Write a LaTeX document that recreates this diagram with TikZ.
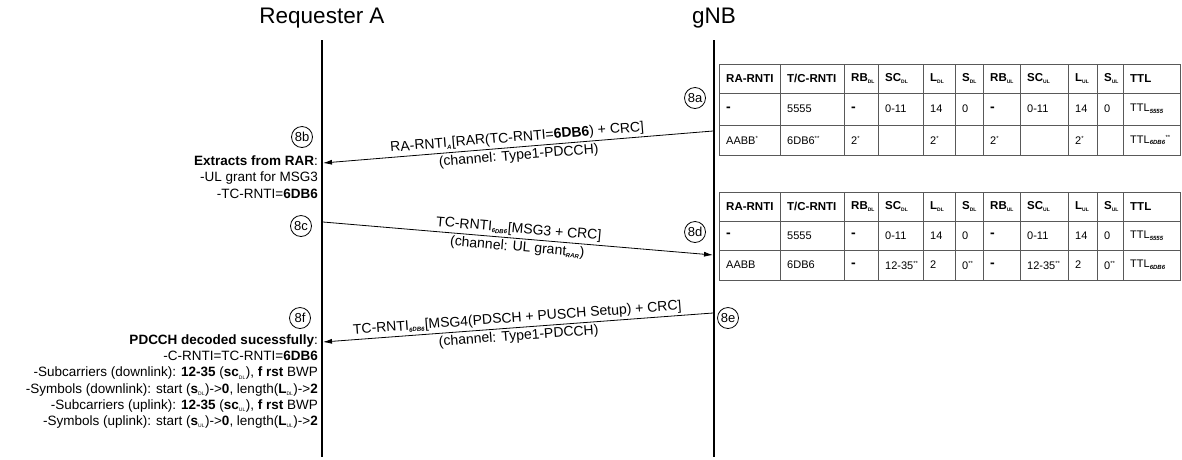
\documentclass[tikz,border=0pt]{standalone}
\usepackage{fontspec}
\setmainfont{Liberation Sans}
\usetikzlibrary{arrows.meta}

\newcommand{\lo}[1]{\textsubscript{\fontsize{5}{5}\selectfont #1}}
\newcommand{\loit}[1]{\textsubscript{\fontsize{6}{6}\selectfont\bfseries\itshape #1}}
\newcommand{\starmk}[1]{\textsuperscript{\fontsize{6}{6}\selectfont #1}}
\newcommand{\nodash}{{\fontsize{14}{11}\selectfont\bfseries -}}

\tikzset{
  lifeline/.style={line width=1.8pt},
  msg/.style={line width=0.8pt, -{Latex[length=9pt,width=5pt]}},
  lbl/.style={sloped, inner sep=2.2pt, font=\fontsize{14}{14}\selectfont},
  stepmark/.style={draw, circle, line width=0.8pt, inner sep=0pt, minimum size=21pt, font=\fontsize{13}{13}\selectfont},
  note/.style={align=right, inner sep=0pt, font=\fontsize{13.5}{16.3}\selectfont},
  tabline/.style={line width=0.9pt, black!65},
  cell/.style={anchor=west, inner sep=0pt, font=\fontsize{11}{11}\selectfont},
  hcell/.style={cell, font=\fontsize{11.5}{11.5}\selectfont\bfseries},
}

\begin{document}
\begin{tikzpicture}[x=1pt, y=-1pt]
  \useasboundingbox (0,0) rectangle (1182,459);

  % lifelines
  \node[font=\fontsize{22.5}{27}\selectfont] (req) at (322,18) {Requester A};
  \node[font=\fontsize{22.5}{27}\selectfont] (gnb) at (714,18) {gNB};
  \coordinate (reqtop) at (322,40);
  \coordinate (reqbot) at (322,457);
  \coordinate (gnbtop) at (714,40);
  \coordinate (gnbbot) at (714,457);
  \draw[lifeline] (reqtop) -- (reqbot);
  \draw[lifeline] (gnbtop) -- (gnbbot);

  % step marks
  \node[stepmark] (s8a) at (695,98) {8a};
  \node[stepmark] (s8b) at (302,137) {8b};
  \node[stepmark] (s8c) at (301,226) {8c};
  \node[stepmark] (s8d) at (695,232) {8d};
  \node[stepmark] (s8e) at (728,318) {8e};
  \node[stepmark] (s8f) at (300,318) {8f};

  % messages
  \coordinate (m1s) at (713,131);
  \coordinate (m1e) at (323,163);
  \draw[msg] (m1s) -- node[lbl, above] {RA-RNTI\loit{A}[RAR(TC-RNTI=\textbf{6DB6}) + CRC]}
                      node[lbl, below] {(channel: Type1-PDCCH)} (m1e);

  \coordinate (m2s) at (323,222);
  \coordinate (m2e) at (713,255);
  \draw[msg] (m2s) -- node[lbl, above] {TC-RNTI\loit{6DB6}[MSG3 + CRC]}
                      node[lbl, below] {(channel: UL grant\loit{RAR})} (m2e);

  \coordinate (m3s) at (713,313);
  \coordinate (m3e) at (323,342);
  \draw[msg] (m3s) -- node[lbl, above] {TC-RNTI\loit{6DB6}[MSG4(PDSCH + PUSCH Setup) + CRC]}
                      node[lbl, below] {(channel: Type1-PDCCH)} (m3e);

  % what the requester reads
  \node[note, anchor=east] (rarinfo) at (318,177)
    {\textbf{Extracts from RAR}:\\-UL grant for MSG3\\-TC-RNTI=\textbf{6DB6}};
  \node[note, anchor=east] (msg4info) at (318,381.5)
    {\textbf{PDCCH decoded sucessfully}:\\
     -C-RNTI=TC-RNTI=\textbf{6DB6}\\
     -Subcarriers (downlink): \textbf{12-35} (\textbf{sc}\lo{DL}), \textbf{f rst} BWP\\
     -Symbols (downlink): start (\textbf{s}\lo{DL})->\textbf{0}, length(\textbf{L}\lo{DL})->\textbf{2}\\
     -Subcarriers (uplink): \textbf{12-35} (\textbf{sc}\lo{UL}), \textbf{f rst} BWP\\
     -Symbols (uplink): start (\textbf{s}\lo{UL})->\textbf{0}, length(\textbf{L}\lo{UL})->\textbf{2}};

  % tables of the gNB
  \foreach \tb/\ya/\yb/\yc/\yd in {a/64/93/125/155, b/192/221/250/280} {
    \draw[tabline] (719,\ya) rectangle (1180,\yd);
    \draw[tabline] (719,\yb) -- (1180,\yb);
    \draw[tabline] (719,\yc) -- (1180,\yc);
    \foreach \x in {780,844,878,923,955,983,1020,1068,1097,1123}
      \draw[tabline] (\x,\ya) -- (\x,\yd);
    \foreach \x/\txt [count=\c] in {719/RA-RNTI, 780/{T/C-RNTI}, 844/RB\lo{DL}, 878/SC\lo{DL},
        923/L\lo{DL}, 955/S\lo{DL}, 983/RB\lo{UL}, 1020/SC\lo{UL}, 1068/L\lo{UL}, 1097/S\lo{UL}, 1123/TTL}
      \node[hcell] (h\tb-\c) at ({\x+7},{(\ya+\yb)/2}) {\txt};
    \foreach \x/\txt [count=\c] in {719/\nodash, 780/5555, 844/\nodash, 878/0-11, 923/14, 955/0,
        983/\nodash, 1020/0-11, 1068/14, 1097/0, 1123/TTL\loit{5555}}
      \node[cell] (r\tb-\c) at ({\x+7},{(\yb+\yc)/2}) {\txt};
  }
  \foreach \x/\txt [count=\c] in {719/AABB\starmk{*}, 780/6DB6\starmk{**}, 844/2\starmk{*}, 878/{},
      923/2\starmk{*}, 955/{}, 983/2\starmk{*}, 1020/{}, 1068/2\starmk{*}, 1097/{}, 1123/TTL\loit{6DB6}\starmk{**}}
    \node[cell] (na-\c) at ({\x+7},140) {\txt};
  \foreach \x/\txt [count=\c] in {719/AABB, 780/6DB6, 844/\nodash, 878/12-35\starmk{**},
      923/2, 955/0\starmk{**}, 983/\nodash, 1020/12-35\starmk{**}, 1068/2, 1097/0\starmk{**}, 1123/TTL\loit{6DB6}}
    \node[cell] (nb-\c) at ({\x+7},265) {\txt};
\end{tikzpicture}
\end{document}
